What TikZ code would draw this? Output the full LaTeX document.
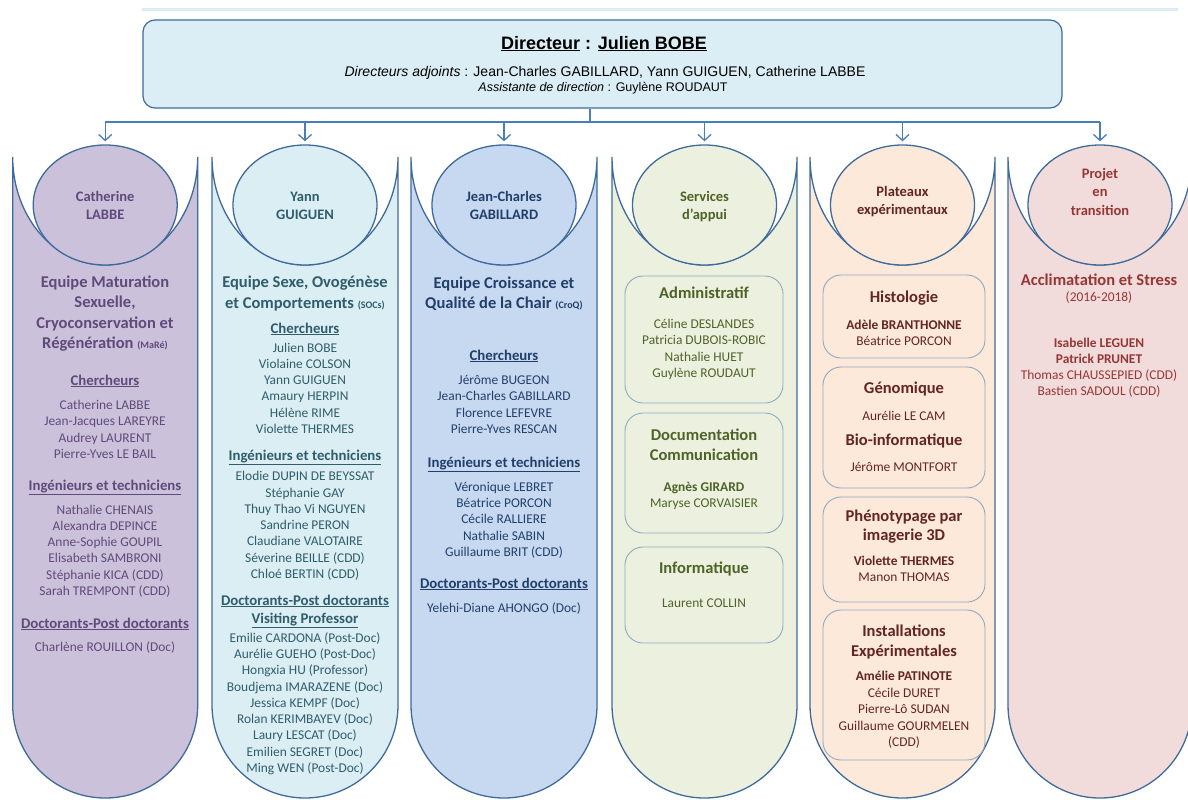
\documentclass[tikz,border=0pt]{standalone}
\usepackage{fontspec}
\setmainfont{Carlito}
\newfontfamily\arialfont{Liberation Sans}
\usetikzlibrary{arrows.meta,shapes.geometric}

\definecolor{framblue}{HTML}{3F6A9A}
\definecolor{linkblue}{HTML}{4A7EBB}
\definecolor{topfill}{HTML}{DCEEF5}
\definecolor{stripblue}{HTML}{DDEBF2}
\definecolor{boxline}{HTML}{8FA8C6}
\definecolor{mareFill}{HTML}{CCC1DA}
\definecolor{mareText}{HTML}{5F4A7B}
\definecolor{socsFill}{HTML}{DBEEF4}
\definecolor{socsText}{HTML}{2F5D6C}
\definecolor{croqFill}{HTML}{C6D9F1}
\definecolor{croqText}{HTML}{223F6A}
\definecolor{appuiFill}{HTML}{EBF1DE}
\definecolor{appuiText}{HTML}{4F6228}
\definecolor{platFill}{HTML}{FDE9D9}
\definecolor{platText}{HTML}{632523}
\definecolor{projFill}{HTML}{F2DCDB}
\definecolor{projText}{HTML}{953735}

\newcommand\teamfont{\fontsize{16.5}{20.5}\selectfont\bfseries}
\newcommand\sectfont{\fontsize{14.8}{18}\selectfont\bfseries}
\newcommand\namefont{\fontsize{13.4}{16.3}\selectfont}
\newcommand\circfont{\fontsize{14.5}{18}\selectfont\bfseries}
\newcommand\tagfont{\fontsize{10}{10}\selectfont}

\begin{document}
\begin{tikzpicture}[x=1pt,y=-1pt,>={Straight Barb[length=6pt,width=13pt]},
    colframe/.style={draw=framblue,line width=1.3pt},
    headcirc/.style={ellipse,draw=framblue,line width=1.3pt,minimum width=144pt,minimum height=120pt,inner sep=0pt},
    subbox/.style={draw=boxline,line width=0.9pt,rounded corners=18pt},
    link/.style={draw=linkblue,line width=1.3pt},
    team/.style={font=\teamfont,align=center,anchor=base},
    sect/.style={font=\sectfont,align=center,anchor=base},
    names/.style={font=\namefont,align=center,anchor=base},
    circtxt/.style={font=\circfont,align=center,anchor=base}]
    \useasboundingbox (0,0) rectangle (1188,800);
    % note: multi-line nodes sit on the baseline of their last line

    % thin strip over the top
    \draw[stripblue,line width=3pt] (142,10) -- (1178,10);

    % direction box
    \node[draw=framblue,line width=1.2pt,fill=topfill,rounded corners=12pt,
          minimum width=919pt,minimum height=88pt] (dir) at (602.5,64) {};
    \node[font=\arialfont\fontsize{18}{20}\selectfont\bfseries,anchor=base] (title) at (604,49)
        {\underline{Directeur} : \underline{Julien BOBE}};
    \node[font=\arialfont\fontsize{14}{16}\selectfont,anchor=base] (adj) at (605,76.5)
        {\textit{Directeurs adjoints} : Jean-Charles GABILLARD, Yann GUIGUEN, Catherine LABBE};
    \node[font=\arialfont\fontsize{12.5}{14}\selectfont,anchor=base] (assist) at (603,92)
        {\textit{Assistante de direction} : Guylène ROUDAUT};

    % columns with their head circles
    \foreach \l/\r/\f [count=\i] in {12.7/197.7/mareFill, 212/398/socsFill, 411/597/croqFill,
                                    612/797/appuiFill, 810/995/platFill, 1008/1192/projFill} {
        \pgfmathsetmacro\w{(\r-\l)/2}
        \draw[colframe,fill=\f] (\l,157) -- (\l,705)
            arc[start angle=180,end angle=0,x radius=\w,y radius=93] -- (\r,157)
            arc[start angle=0,end angle=180,x radius=\w,y radius=108] -- cycle;
        \node[headcirc,fill=\f] (head\i) at (\l+\w,205) {};
    }

    % links from the direction
    \coordinate (busL) at (head1 |- 0,122);
    \coordinate (busR) at (head6 |- 0,122);
    \coordinate (join) at (590,122);
    \draw[link] (busL) -- (busR);
    \draw[link] (dir.south -| join) -- (join);
    \foreach \i in {1,...,6}
        \draw[link,->,shorten >=3pt] (head\i |- busL) -- (head\i.north);

    % MaRe team
    \begin{scope}[text=mareText]
        \node[circtxt] (lab1) at (head1 |- 0,219) {Catherine\\LABBE};
        \node[team] (team1) at (105,348.5) {Equipe Maturation\\Sexuelle,\\Cryoconservation et\\Régénération {\tagfont (MaRé)}};
        \node[sect] (ch1) at (105,385) {\underline{Chercheurs}};
        \node[names] (chn1) at (105,458.5) {Catherine LABBE\\Jean-Jacques LAREYRE\\Audrey LAURENT\\Pierre-Yves LE BAIL};
        \node[sect] (it1) at (105,490) {\underline{Ingénieurs et techniciens}};
        \node[names] (itn1) at (105,595.5) {Nathalie CHENAIS\\Alexandra DEPINCE\\Anne-Sophie GOUPIL\\Elisabeth SAMBRONI\\Stéphanie KICA (CDD)\\Sarah TREMPONT (CDD)};
        \node[sect] (dc1) at (105,628) {\underline{Doctorants-Post doctorants}};
        \node[names] (dcn1) at (105,651.5) {Charlène ROUILLON (Doc)};
    \end{scope}

    % SOCs team
    \begin{scope}[text=socsText]
        \node[circtxt] (lab2) at (head2 |- 0,219) {Yann\\GUIGUEN};
        \node[team] (team2) at (305,308) {Equipe Sexe, Ovogénèse\\et Comportements {\tagfont (SOCs)}};
        \node[sect] (ch2) at (305,333) {\underline{Chercheurs}};
        \node[names] (chn2) at (305,433.5) {Julien BOBE\\Violaine COLSON\\Yann GUIGUEN\\Amaury HERPIN\\Hélène RIME\\Violette THERMES};
        \node[sect] (it2) at (305,460) {\underline{Ingénieurs et techniciens}};
        \node[names] (itn2) at (305,578.5) {Elodie DUPIN DE BEYSSAT\\Stéphanie GAY\\Thuy Thao Vi NGUYEN\\Sandrine PERON\\Claudiane VALOTAIRE\\Séverine BEILLE (CDD)\\Chloé BERTIN (CDD)};
        \node[sect] (dc2) at (305,623) {\underline{Doctorants-Post doctorants}\\\underline{Visiting Professor}};
        \node[names] (dcn2) at (305,772.5) {Emilie CARDONA (Post-Doc)\\Aurélie GUEHO (Post-Doc)\\Hongxia HU (Professor)\\Boudjema IMARAZENE (Doc)\\Jessica KEMPF (Doc)\\Rolan KERIMBAYEV (Doc)\\Laury LESCAT (Doc)\\Emilien SEGRET (Doc)\\Ming WEN (Post-Doc)};
    \end{scope}

    % CroQ team
    \begin{scope}[text=croqText]
        \node[circtxt] (lab3) at (head3 |- 0,219) {Jean-Charles\\GABILLARD};
        \node[team] (team3) at (504,308.5) {Equipe Croissance et\\Qualité de la Chair {\tagfont (CroQ)}};
        \node[sect] (ch3) at (504,360) {\underline{Chercheurs}};
        \node[names] (chn3) at (504,433.5) {Jérôme BUGEON\\Jean-Charles GABILLARD\\Florence LEFEVRE\\Pierre-Yves RESCAN};
        \node[sect] (it3) at (504,467) {\underline{Ingénieurs et techniciens}};
        \node[names] (itn3) at (504,556.5) {Véronique LEBRET\\Béatrice PORCON\\Cécile RALLIERE\\Nathalie SABIN\\Guillaume BRIT (CDD)};
        \node[sect] (dc3) at (504,588) {\underline{Doctorants-Post doctorants}};
        \node[names] (dcn3) at (504,612.5) {Yelehi-Diane AHONGO (Doc)};
    \end{scope}

    % support services
    \begin{scope}[text=appuiText]
        \node[circtxt] (lab4) at (head4 |- 0,219) {Services\\d’appui};
        \draw[subbox] (625,276) rectangle (783,403);
        \draw[subbox] (625,413) rectangle (783,533);
        \draw[subbox] (625,547) rectangle (783,643);
        \node[team] (adm) at (704,298.5) {Administratif};
        \node[names] (admn) at (704,377.5) {Céline DESLANDES\\Patricia DUBOIS-ROBIC\\Nathalie HUET\\Guylène ROUDAUT};
        \node[team,font=\fontsize{16.5}{20}\selectfont\bfseries] (doc) at (704,460.5) {Documentation\\Communication};
        \node[names] (docn) at (704,507.5) {\textbf{Agnès GIRARD}\\Maryse CORVAISIER};
        \node[team] (info) at (704,573.5) {Informatique};
        \node[names] (infon) at (704,607.5) {Laurent COLLIN};
    \end{scope}

    % experimental platforms
    \begin{scope}[text=platText]
        \node[circtxt] (lab5) at (head5 |- 0,214) {Plateaux\\expérimentaux};
        \draw[subbox] (823,275) rectangle (985,358);
        \draw[subbox] (823,367) rectangle (985,488);
        \draw[subbox] (823,497) rectangle (985,602);
        \draw[subbox] (823,610) rectangle (985,760);
        \node[team] (histo) at (904,302.5) {Histologie};
        \node[names,font=\fontsize{13.4}{15.5}\selectfont] (histon) at (904,345) {\textbf{Adèle BRANTHONNE}\\Béatrice PORCON};
        \node[team] (geno) at (904,393.5) {Génomique};
        \node[names] (genon) at (904,420.5) {Aurélie LE CAM};
        \node[team] (bioinf) at (904,445.5) {Bio-informatique};
        \node[names] (bioinfn) at (904,471.5) {Jérôme MONTFORT};
        \node[team,font=\fontsize{16.5}{19}\selectfont\bfseries] (pheno) at (904,540.5) {Phénotypage par\\imagerie 3D};
        \node[names] (phenon) at (904,581.5) {\textbf{Violette THERMES}\\Manon THOMAS};
        \node[team,font=\fontsize{16.5}{20}\selectfont\bfseries] (instal) at (904,656.5) {Installations\\Expérimentales};
        \node[names,font=\fontsize{13.4}{16.5}\selectfont] (instaln) at (904,746.5) {\textbf{Amélie PATINOTE}\\Cécile DURET\\Pierre-Lô SUDAN\\Guillaume GOURMELEN\\(CDD)};
    \end{scope}

    % project in transition
    \begin{scope}[text=projText]
        \node[circtxt,font=\fontsize{14.5}{18.5}\selectfont\bfseries] (lab6) at (head6 |- 0,215) {Projet\\en\\transition};
        \node[team] (team6) at (1099,285.5) {Acclimatation et Stress};
        \node[names] (years6) at (1099,301.5) {(2016-2018)};
        \node[names,font=\fontsize{13.4}{16}\selectfont] (names6) at (1099,395.5) {\textbf{Isabelle LEGUEN}\\\textbf{Patrick PRUNET}\\Thomas CHAUSSEPIED (CDD)\\Bastien SADOUL (CDD)};
    \end{scope}
\end{tikzpicture}
\end{document}
